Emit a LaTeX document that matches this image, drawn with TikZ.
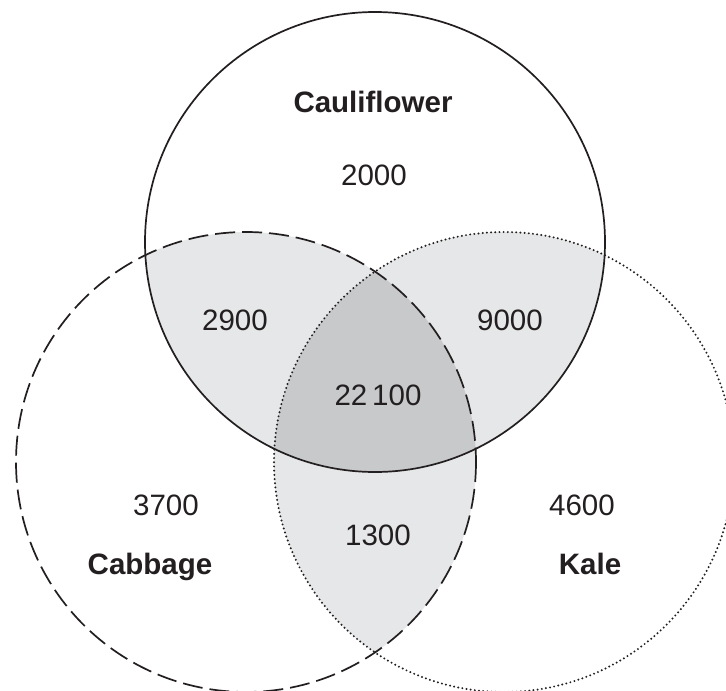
\documentclass[tikz,border=0pt]{standalone}
\usepackage{fontspec}
\setmainfont{Liberation Sans}
\definecolor{lightfill}{RGB}{230,231,232}
\definecolor{darkfill}{RGB}{200,201,203}
\definecolor{ink}{RGB}{35,31,32}
\tikzset{
  num/.style={anchor=base, font=\fontsize{29.5}{34}\selectfont, text=ink, inner sep=0pt},
  lab/.style={anchor=base, font=\fontsize{29.5}{34}\selectfont\bfseries, text=ink, inner sep=0pt},
  setline/.style={draw=ink, line width=1.7pt},
}
\begin{document}
\begin{tikzpicture}[x=1pt, y=-1pt]
\useasboundingbox (0,0) rectangle (726,691);
\clip (0,0) rectangle (726,691);
\fill[white] (0,0) rectangle (726,691);
\coordinate (A) at (375,242);
\coordinate (B) at (246,462);
\coordinate (C) at (504,462);
\def\R{230}
% pairwise overlaps
\begin{scope}
  \clip (A) circle[radius=\R];
  \fill[lightfill] (B) circle[radius=\R];
  \fill[lightfill] (C) circle[radius=\R];
\end{scope}
\begin{scope}
  \clip (B) circle[radius=\R];
  \fill[lightfill] (C) circle[radius=\R];
\end{scope}
% triple overlap
\begin{scope}
  \clip (A) circle[radius=\R];
  \clip (B) circle[radius=\R];
  \fill[darkfill] (C) circle[radius=\R];
\end{scope}
% outlines
\draw[setline] (A) circle[radius=\R];
\draw[setline, dash pattern=on 20pt off 7pt] (B) circle[radius=\R];
\draw[setline, line width=2.2pt, line cap=round, dash pattern=on 0pt off 4.2pt] (C) circle[radius=\R];
% labels
\node[lab] (cauli) at (373,112) {Cauliflower};
\node[num] (n2000) at (374,185) {2000};
\node[num] (n2900) at (235,330) {2900};
\node[num] (n9000) at (510,330) {9000};
\node[num] (n22100) at (378,405) {22\,100};
\node[num] (n3700) at (166,515) {3700};
\node[num] (n1300) at (378,545) {1300};
\node[num] (n4600) at (582,515) {4600};
\node[lab] (cabb) at (150,574) {Cabbage};
\node[lab] (kale) at (590,574) {Kale};
\end{tikzpicture}
\end{document}
